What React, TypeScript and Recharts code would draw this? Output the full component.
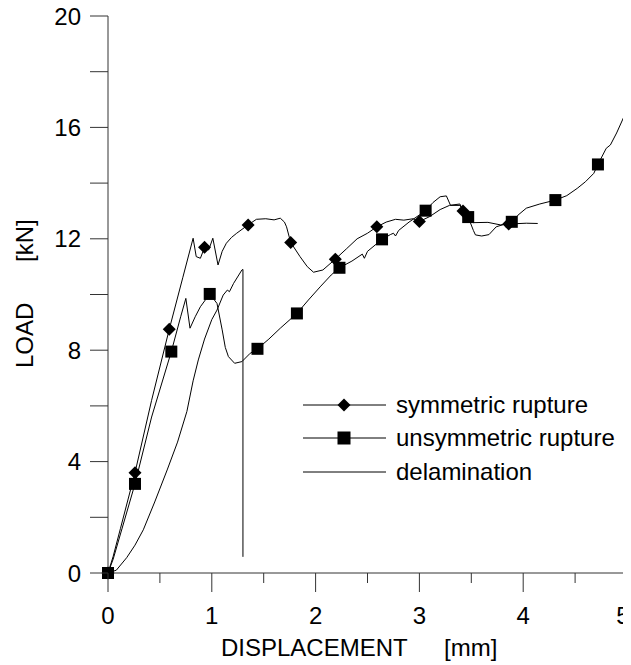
import React from "react";
import { ComposedChart, Line, Scatter, XAxis, YAxis, Legend } from "recharts";

// displacement [mm], load [kN]
const symmetricCurve: [number, number][] = [
  [0, 0], [0.05, 0.6], [0.12, 1.6], [0.26, 3.6], [0.42, 6.2], [0.59, 8.75], [0.72, 10.6],
  [0.82, 12.02], [0.85, 11.36], [0.89, 11.3], [0.93, 11.69], [0.97, 11.6], [1.01, 12.02],
  [1.06, 11.06], [1.1, 11.55], [1.14, 11.84], [1.19, 12.05], [1.24, 12.2], [1.35, 12.5],
  [1.43, 12.7], [1.52, 12.72], [1.6, 12.68], [1.66, 12.74], [1.7, 12.6], [1.72, 12.43],
  [1.76, 11.87], [1.85, 11.36], [1.92, 11.0], [1.98, 10.8], [2.07, 10.88], [2.19, 11.27],
  [2.3, 11.65], [2.4, 12.0], [2.5, 12.2], [2.59, 12.43], [2.68, 12.6], [2.77, 12.7],
  [2.85, 12.67], [2.94, 12.72], [3.0, 12.62], [3.1, 12.8], [3.2, 13.05], [3.29, 13.2],
  [3.39, 13.25], [3.42, 13.0], [3.47, 12.7], [3.52, 12.58], [3.66, 12.59], [3.78, 12.5],
  [3.86, 12.53], [4.03, 12.56], [4.14, 12.55],
];

const unsymmetricCurve: [number, number][] = [
  [0, 0], [0.05, 0.5], [0.12, 1.4], [0.26, 3.2], [0.42, 5.6], [0.61, 7.95], [0.7, 9.2],
  [0.75, 9.86], [0.79, 8.79], [0.84, 9.2], [0.89, 9.56], [0.98, 10.02], [1.05, 9.68],
  [1.1, 8.73], [1.13, 8.1], [1.16, 7.77], [1.22, 7.53], [1.29, 7.59], [1.37, 7.89],
  [1.44, 8.05], [1.55, 8.4], [1.66, 8.79], [1.82, 9.32], [1.93, 9.8], [2.05, 10.3],
  [2.15, 10.7], [2.23, 10.96], [2.35, 11.2], [2.45, 11.45], [2.47, 11.3], [2.5, 11.55],
  [2.64, 11.98], [2.72, 12.15], [2.75, 12.2], [2.77, 12.1], [2.8, 12.3], [2.9, 12.6],
  [3.06, 13.01], [3.13, 13.3], [3.2, 13.51], [3.26, 13.54], [3.3, 13.2], [3.39, 13.2],
  [3.47, 12.78], [3.52, 12.3], [3.54, 12.14], [3.6, 12.1], [3.67, 12.15], [3.74, 12.43],
  [3.89, 12.61], [3.95, 12.85], [4.03, 13.1], [4.16, 13.25], [4.31, 13.39], [4.42, 13.55],
  [4.52, 13.81], [4.6, 14.05], [4.68, 14.35], [4.72, 14.67], [4.8, 15.25], [4.84, 15.37],
  [4.9, 15.8], [4.97, 16.38],
];

const delaminationCurve: [number, number][] = [
  [0, 0], [0.08, 0.1], [0.18, 0.55], [0.26, 1.0], [0.34, 1.55], [0.45, 2.55], [0.57, 3.7],
  [0.67, 4.7], [0.76, 5.8], [0.82, 6.9], [0.87, 7.65], [0.93, 8.4], [1.0, 9.1], [1.05, 9.44],
  [1.11, 9.98], [1.15, 10.16], [1.17, 10.1], [1.21, 10.4], [1.26, 10.7], [1.29, 10.88],
  [1.3, 10.9], [1.3, 0.58],
];

const symmetricMarks: [number, number][] = [
  [0, 0], [0.26, 3.6], [0.59, 8.75], [0.93, 11.7], [1.35, 12.5], [1.76, 11.87], [2.19, 11.27],
  [2.59, 12.43], [3.0, 12.62], [3.42, 13.0], [3.86, 12.53],
];

const unsymmetricMarks: [number, number][] = [
  [0, 0], [0.26, 3.2], [0.61, 7.95], [0.98, 10.02], [1.44, 8.05], [1.82, 9.32], [2.23, 10.96],
  [2.64, 11.98], [3.06, 13.01], [3.47, 12.78], [3.89, 12.61], [4.31, 13.39], [4.72, 14.67],
];

const seriesNames = ["symmetric rupture", "unsymmetric rupture", "delamination"];
const xTicks = [0, 0.5, 1, 1.5, 2, 2.5, 3, 3.5, 4, 4.5, 5];
const yTicks = [0, 2, 4, 6, 8, 10, 12, 14, 16, 18, 20];

const FONT = "'Liberation Sans', Arial, sans-serif";
const AXIS = "#333";

const toPoints = (pts: [number, number][]) => pts.map(([x, y]) => ({ x, y }));

function Diamond({ cx, cy, r = 6.5 }: any) {
  return <polygon points={`${cx},${cy - r} ${cx + r},${cy} ${cx},${cy + r} ${cx - r},${cy}`} fill="#000" />;
}

function Square({ cx, cy, s = 6 }: any) {
  return <rect x={cx - s} y={cy - s} width={s * 2} height={s * 2} fill="#000" />;
}

function XTick({ x, y, payload }: any) {
  const v = payload.value;
  const major = Number.isInteger(v);
  // last label sits at the page edge, nudge it in a little
  const lx = v === 5 ? x - 4 : x;
  return (
    <g>
      <line x1={x} y1={y} x2={x} y2={y + (major ? 19 : 10)} stroke={AXIS} />
      {major && (
        <text x={lx} y={y + 51} textAnchor="middle" fontSize={24} fontFamily={FONT} fill="#000">
          {v}
        </text>
      )}
    </g>
  );
}

function YTick({ x, y, payload }: any) {
  const v = payload.value;
  return (
    <g>
      <line x1={x - 18} y1={y} x2={x} y2={y} stroke={AXIS} />
      {v % 4 === 0 && (
        <text x={x - 27} y={y} dy="0.36em" textAnchor="end" fontSize={24} fontFamily={FONT} fill="#000">
          {v}
        </text>
      )}
    </g>
  );
}

function LegendBox() {
  const marks = [<Diamond cx={41} cy={16} r={6.5} />, <Square cx={41} cy={16} s={6.5} />, null];
  return (
    <div style={{ fontFamily: FONT, fontSize: 24, color: "#000" }}>
      {seriesNames.map((name, i) => (
        <div key={name} style={{ display: "flex", alignItems: "center", height: 33.5 }}>
          <svg width={93} height={32}>
            <line x1={0} y1={16} x2={83} y2={16} stroke="#000" />
            {marks[i]}
          </svg>
          <span style={{ lineHeight: "24px" }}>{name}</span>
        </div>
      ))}
    </div>
  );
}

export default function App() {
  return (
    <div style={{ width: 623, height: 657, fontFamily: FONT }}>
      <style>{`.recharts-surface { overflow: visible; }`}</style>
      <ComposedChart width={623} height={657} margin={{ top: 8, right: 4, bottom: 0, left: 0 }}>
        <XAxis
          type="number"
          dataKey="x"
          domain={[0, 5]}
          ticks={xTicks}
          interval={0}
          height={92}
          tickSize={0}
          tickMargin={0}
          tick={<XTick />}
          axisLine={{ stroke: AXIS }}
          label={{
            content: () => (
              <g fontFamily={FONT} fontSize={24} fill="#000">
                <text x={213} y={648}>DISPLACEMENT</text>
                <text x={436} y={648}>[mm]</text>
              </g>
            ),
          }}
        />
        <YAxis
          type="number"
          dataKey="y"
          domain={[0, 20]}
          ticks={yTicks}
          interval={0}
          width={100}
          tickSize={0}
          tickMargin={0}
          tick={<YTick />}
          axisLine={{ stroke: AXIS }}
          label={{
            content: () => (
              <g fontFamily={FONT} fontSize={24} fill="#000">
                <text transform="translate(25,360) rotate(-90)">LOAD</text>
                <text transform="translate(25,254) rotate(-90)">[kN]</text>
              </g>
            ),
          }}
        />
        <Line data={toPoints(symmetricCurve)} dataKey="y" type="linear" stroke="#000" strokeWidth={1} dot={false} isAnimationActive={false} />
        <Line data={toPoints(unsymmetricCurve)} dataKey="y" type="linear" stroke="#000" strokeWidth={1} dot={false} isAnimationActive={false} />
        <Line data={toPoints(delaminationCurve)} dataKey="y" type="linear" stroke="#000" strokeWidth={1} dot={false} isAnimationActive={false} />
        <Scatter data={toPoints(symmetricMarks)} dataKey="y" shape={(p: any) => <Diamond cx={p.cx} cy={p.cy} />} isAnimationActive={false} />
        <Scatter data={toPoints(unsymmetricMarks)} dataKey="y" shape={(p: any) => <Square cx={p.cx} cy={p.cy} />} isAnimationActive={false} />
        <Legend
          layout="vertical"
          align="center"
          verticalAlign="middle"
          content={() => <LegendBox />}
          wrapperStyle={{ left: 295, top: 380, width: 320 }}
        />
      </ComposedChart>
    </div>
  );
}
